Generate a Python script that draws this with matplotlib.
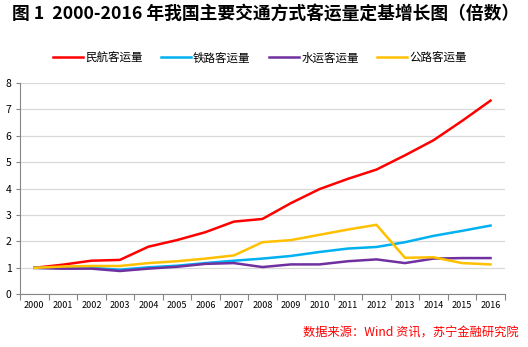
import numpy as np
import matplotlib.pyplot as plt

plt.rcParams['font.family'] = ['Noto Sans CJK SC', 'DejaVu Sans']

years = [str(y) for y in range(2000, 2017)]
air = [1.0, 1.12, 1.27, 1.3, 1.8, 2.05, 2.35, 2.75, 2.85, 3.45, 3.98,
       4.37, 4.72, 5.26, 5.83, 6.56, 7.33]
rail = [1.0, 0.98, 1.0, 0.93, 1.02, 1.08, 1.18, 1.27, 1.35, 1.45, 1.6,
        1.73, 1.79, 1.97, 2.21, 2.4, 2.6]
water = [1.0, 0.97, 0.97, 0.88, 0.97, 1.04, 1.15, 1.18, 1.03, 1.13, 1.13,
         1.25, 1.32, 1.18, 1.35, 1.37, 1.37]
road = [1.0, 1.05, 1.07, 1.07, 1.18, 1.25, 1.35, 1.47, 1.97, 2.05, 2.25,
        2.45, 2.63, 1.38, 1.4, 1.18, 1.13]

fig = plt.figure(figsize=(5.28, 3.47), dpi=100)
ax = fig.add_axes([0.038, 0.152, 0.918, 0.609])

x = np.arange(len(years))
ax.plot(x, air, color='#ff0000', lw=1.8, label='民航客运量')
ax.plot(x, rail, color='#00b0f0', lw=1.8, label='铁路客运量')
ax.plot(x, water, color='#7030a0', lw=1.8, label='水运客运量')
ax.plot(x, road, color='#ffc000', lw=1.8, label='公路客运量')

ax.set_xlim(-0.5, len(years) - 0.5)
ax.set_ylim(0, 8)
ax.set_yticks(range(0, 9))
ax.tick_params(axis='y', labelsize=7.5, length=3, color='#868686', pad=3)
# year boundaries get the tick marks, labels sit in the middle
ax.set_xticks(np.arange(-0.5, len(years), 1))
ax.set_xticklabels([])
ax.set_xticks(x, minor=True)
ax.set_xticklabels(years, minor=True, fontsize=6.5)
ax.tick_params(axis='x', which='major', length=4, color='#868686')
ax.tick_params(axis='x', which='minor', length=0, pad=5)
ax.grid(axis='y', color='#d9d9d9', lw=0.9)
ax.set_axisbelow(True)
for s in ['top', 'right']:
    ax.spines[s].set_visible(False)
for s in ['left', 'bottom']:
    ax.spines[s].set_color('#868686')

fig.legend(loc='center', bbox_to_anchor=(0.492, 0.833), ncol=4, frameon=False,
           fontsize=8.3, handlelength=2.6, handletextpad=0.2, columnspacing=1.6)

fig.text(0.022, 0.958, '图 1  2000-2016 年我国主要交通方式客运量定基增长图（倍数）',
         fontsize=12.8, fontweight='bold', va='center', ha='left')
fig.text(0.983, 0.04, '数据来源：Wind 资讯，苏宁金融研究院', color='#ff0000',
         fontsize=8.8, style='italic', ha='right', va='center')

fig.savefig('out.png', dpi=100)
